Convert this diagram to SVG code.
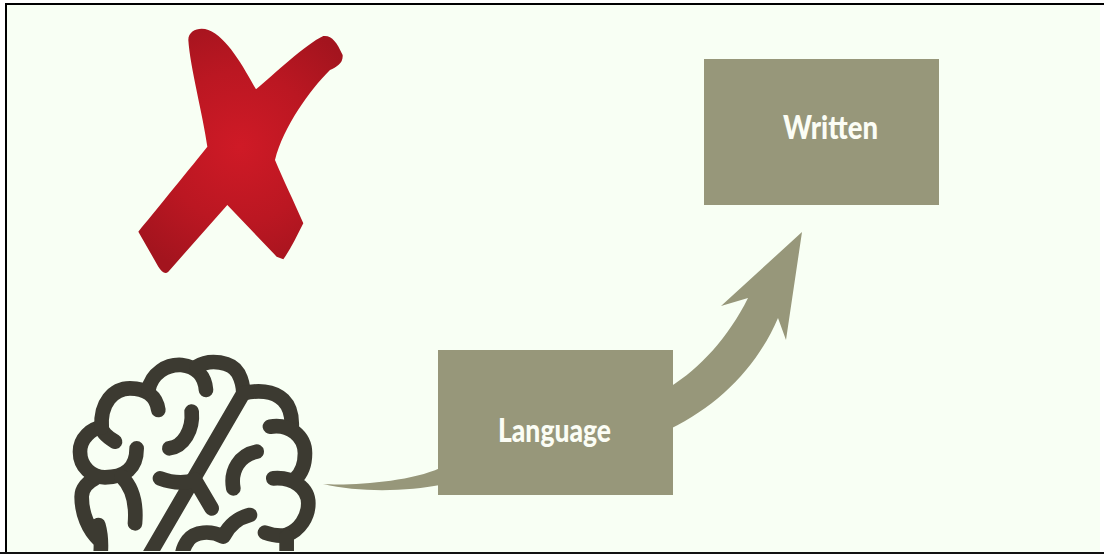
<svg xmlns="http://www.w3.org/2000/svg" width="1104" height="554" viewBox="0 0 1104 554">
<style>
.box{fill:#97977a}
.lbl{font-family:"Lato","Liberation Sans",sans-serif;font-weight:900;fill:#fbfdf5;text-anchor:start;font-size:32px}
.br{fill:none;stroke:#3c3a31;stroke-width:44;stroke-linecap:round;stroke-linejoin:round}
</style>
<defs>
<radialGradient id="x" gradientUnits="userSpaceOnUse" cx="360" cy="410" r="410">
<stop offset="0" stop-color="#cf1a26"/><stop offset="0.55" stop-color="#bb1722"/><stop offset="1" stop-color="#a3141e"/>
</radialGradient>
<clipPath id="page"><rect x="0" y="0" width="1104" height="551"/></clipPath>
</defs>
<rect width="1104" height="554" fill="#fff"/>
<rect x="5" y="3" width="1095" height="549" fill="#f8fff4"/>
<g id="connectors" class="box">
<path d="M323 484C350 486 410 482 440 468L440 485C410 491 360 493 323 484Z"/>
<path d="M670 387C700 368 728 338 748 298L721 306L802 232L786 340L778 318C758 365 720 405 670 429Z"/>
</g>
<g id="cross"><path fill="url(#x)" transform="translate(120 10) scale(.3333)" d="M205 90C205 60 240 50 265 60C320 80 370 170 408 238C460 195 560 100 610 78C635 75 650 95 668 135C670 160 650 170 630 180C570 240 490 350 465 450C490 510 520 570 550 640C530 680 510 720 490 748L470 740L322 585L145 785C135 795 125 785 115 770L55 665C100 610 190 500 262 410C250 320 210 170 205 90Z"/></g>
<g id="brain" clip-path="url(#page)">
<g transform="translate(60 340) scale(.3333)" class="br">
<path d="M115 555C125 590 125 620 120 660M118 600C85 570 65 520 65 470C65 445 85 425 105 415"/>
<path d="M165 305C140 290 125 275 125 262C95 265 60 295 60 335C60 380 95 412 135 412C195 412 230 385 230 325"/>
<path d="M185 410C215 440 230 490 225 550"/>
<path d="M125 262C120 190 160 145 210 145C260 145 290 170 295 210"/>
<path d="M265 150C275 100 320 72 365 75C410 80 435 110 438 150"/>
<path d="M410 80C450 55 515 65 535 100C548 125 550 145 550 160L265 650"/>
<path d="M550 160C590 150 640 150 670 180C695 205 697 235 695 265"/>
<path d="M630 260C690 250 735 290 735 340C735 375 725 400 705 418M640 415C700 410 745 445 745 490C745 530 720 570 680 585C660 590 635 585 615 578"/>
<path d="M680 590V650"/>
<path d="M395 215C400 270 370 320 328 325"/>
<path d="M590 335C540 345 510 390 520 445"/>
<path d="M300 415C340 430 375 430 405 420L455 505"/>
<path d="M570 525C530 535 505 560 490 590C450 570 405 575 385 600C370 620 365 635 365 660"/>
</g>
</g>
<g id="language"><rect class="box" x="438" y="350" width="235" height="145"/><text class="lbl" x="498" y="442" textLength="113" lengthAdjust="spacingAndGlyphs">Language</text></g>
<g id="written"><rect class="box" x="704" y="59" width="235" height="146"/><text class="lbl" x="783" y="139" textLength="95" lengthAdjust="spacingAndGlyphs">Written</text></g>
<g id="frame"><rect x="5" y="3" width="1099" height="2" fill="#000"/><rect x="5" y="3" width="2" height="549" fill="#000"/><rect x="0" y="552" width="1104" height="2" fill="#111"/></g>
</svg>
